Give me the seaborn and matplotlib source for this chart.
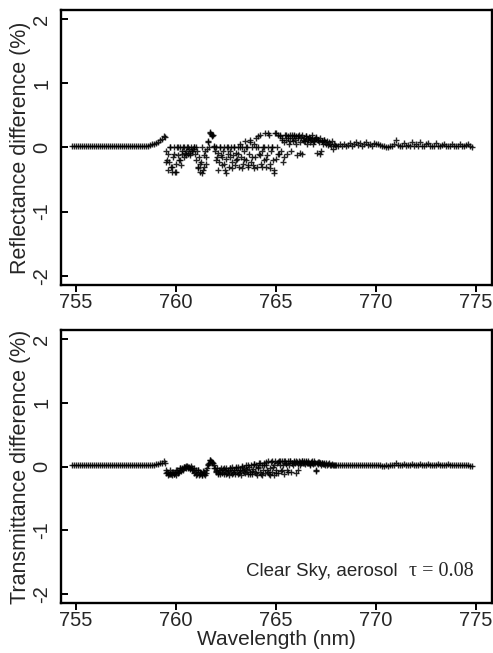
import numpy as np
import pandas as pd
import matplotlib
matplotlib.use("Agg")
import matplotlib.pyplot as plt
import seaborn as sns

sns.set_theme(style="white")
plt.rcParams["font.family"] = ["Liberation Sans", "DejaVu Sans"]

# Spectral sampling (nm) of the segments
head_wl = np.round(np.arange(754.8, 759.45, 0.1), 2)       # smooth continuum side
band_wl = np.round(np.arange(759.45, 768.025, 0.05), 2)    # O2 A-band lines
band2_wl = np.round(np.arange(759.525, 767.45, 0.1), 3)    # interleaved A-band samples
tail_wl = np.round(np.arange(768.1, 774.85, 0.1), 2)       # weak-line tail

# Reflectance difference (%)
refl_head = [0.02] * 36 + [0.02, 0.03, 0.03, 0.04, 0.05, 0.06, 0.07, 0.09, 0.11, 0.14, 0.18]
refl_band = [
    0.17, -0.05, -0.20, -0.10, -0.22, 0.00, -0.30, -0.38, -0.15, 0.00,
    -0.38, -0.25, 0.00, -0.12, -0.20, 0.00, -0.28, -0.05, 0.00, -0.15,
    -0.08, -0.05, 0.00, -0.10, -0.03, -0.12, 0.00, -0.06, -0.02, 0.00,
    -0.10, 0.00, -0.05, -0.30, -0.15, -0.38, -0.22, 0.00, -0.35, -0.12,
    -0.05, -0.25, -0.02, 0.08, 0.00, 0.24, 0.21, 0.18, 0.20, 0.03,
    -0.05, 0.00, -0.15, -0.08, -0.22, 0.00, -0.12, -0.28, -0.05, 0.00,
    -0.35, -0.18, 0.00, -0.10, -0.30, -0.05, 0.00, -0.22, -0.12, 0.00,
    -0.28, -0.08, -0.18, 0.00, -0.30, 0.05, -0.15, 0.00, -0.25, -0.05,
    0.10, -0.20, 0.00, -0.30, -0.10, 0.12, -0.22, 0.00, -0.28, 0.05,
    -0.15, 0.15, -0.30, 0.00, -0.10, 0.20, -0.25, -0.05, 0.00, -0.20,
    0.22, -0.30, -0.12, 0.00, 0.20, -0.25, -0.05, 0.00, -0.20, -0.40,
    0.22, -0.18, 0.00, 0.20, -0.10, 0.18, -0.05, 0.15, -0.22, 0.08,
    0.20, 0.12, -0.10, 0.18, 0.05, 0.20, -0.05, 0.15, 0.10, 0.20,
    0.12, 0.18, -0.12, 0.15, 0.20, 0.08, 0.17, -0.10, 0.12, 0.15,
    0.10, 0.18, 0.05, 0.14, 0.16, 0.08, 0.12, 0.15, 0.06, 0.10,
    0.14, 0.17, -0.08, 0.12, 0.08, 0.15, -0.05, 0.10, 0.06, 0.12,
    0.08, 0.05, 0.10, 0.04, 0.08, 0.06, 0.03, 0.10, -0.03, 0.05,
    0.04, 0.02,
]
refl_band2 = [
    -0.22, -0.35, 0.00, -0.30, -0.10, -0.38, 0.00, -0.20, -0.10, 0.00,
    -0.12, 0.00, -0.08, -0.05, 0.00, -0.20, -0.32, -0.25, -0.40, -0.30,
    -0.15, 0.10, 0.22, 0.19, 0.00, -0.20, -0.35, 0.00, -0.15, -0.25,
    -0.40, 0.00, -0.15, -0.32, 0.00, -0.20, -0.10, 0.00, -0.32, -0.18,
    0.00, -0.28, 0.08, -0.15, -0.32, 0.00, 0.18, -0.12, -0.30, 0.00,
    -0.18, 0.22, -0.32, 0.00, -0.35, 0.22, -0.10, 0.20, 0.12, -0.15,
    0.20, 0.15, 0.10, 0.20, 0.18, 0.05, 0.18, -0.08, 0.20, 0.10,
    0.18, 0.12, 0.15, 0.20, 0.10, 0.15, 0.12, -0.10, 0.10, 0.12,
]
refl_tail = [
    0.02, 0.05, 0.03, 0.06, 0.02, 0.04, 0.07, 0.03, 0.05, 0.08,
    0.04, 0.07, 0.03, 0.06, 0.08, 0.04, 0.06, 0.03, 0.07, 0.05,
    0.06, 0.04, 0.03, 0.02, 0.01, 0.01, 0.02, 0.03, 0.06, 0.12,
    0.04, 0.02, 0.03, 0.07, 0.02, 0.04, 0.02, 0.09, 0.03, 0.05,
    0.02, 0.08, 0.03, 0.02, 0.05, 0.07, 0.02, 0.03, 0.02, 0.07,
    0.03, 0.02, 0.04, 0.06, 0.02, 0.03, 0.02, 0.06, 0.03, 0.02,
    0.03, 0.05, 0.02, 0.02, 0.04, 0.05, 0.02, 0.01,
]

# Transmittance difference (%)
trans_head = [0.02] * 36 + [0.02, 0.02, 0.02, 0.03, 0.03, 0.03, 0.04, 0.04, 0.05, 0.06, 0.08]
trans_band = [
    0.05, -0.05, -0.08, -0.10, -0.12, -0.06, -0.11, -0.13, -0.08, -0.12,
    -0.10, -0.13, -0.06, -0.10, -0.08, -0.03, -0.07, -0.02, -0.05, -0.01,
    0.00, -0.03, 0.01, -0.02, 0.00, -0.04, 0.01, -0.02, -0.05, -0.03,
    -0.08, -0.05, -0.12, -0.06, -0.14, -0.08, -0.10, -0.13, -0.07, -0.11,
    -0.14, -0.06, -0.02, 0.02, 0.06, 0.10, 0.08, 0.07, 0.05, 0.02,
    -0.02, -0.07, -0.03, -0.10, -0.05, -0.12, -0.02, -0.08, -0.04, -0.11,
    -0.06, -0.02, -0.10, -0.05, -0.13, -0.03, -0.08, -0.01, -0.10, -0.06,
    -0.12, -0.03, -0.08, 0.00, -0.10, -0.05, -0.13, 0.01, -0.07, -0.03,
    -0.10, 0.02, -0.06, -0.12, 0.00, -0.08, 0.03, -0.11, -0.04, 0.04,
    -0.09, 0.02, -0.13, -0.03, 0.05, -0.08, -0.12, 0.03, -0.05, 0.06,
    -0.10, 0.02, -0.06, 0.08, -0.12, -0.03, 0.07, -0.09, 0.00, -0.14,
    0.08, -0.06, 0.05, -0.10, 0.09, 0.02, -0.07, 0.08, 0.03, -0.12,
    0.09, 0.04, -0.05, 0.08, 0.02, 0.09, -0.08, 0.06, 0.03, 0.08,
    0.05, -0.10, 0.07, 0.04, 0.08, 0.02, 0.06, 0.09, 0.05, 0.08,
    0.04, 0.07, 0.06, 0.08, 0.05, 0.03, 0.07, 0.06, 0.04, 0.08,
    0.05, -0.07, 0.06, 0.04, 0.07, 0.05, 0.03, 0.06, 0.04, 0.05,
    0.03, 0.05, 0.02, 0.04, 0.05, 0.03, 0.02, 0.04, 0.02, 0.03,
    0.02, 0.02,
]
trans_band2 = [
    -0.10, -0.14, -0.12, -0.08, -0.11, -0.05, -0.08, -0.02, -0.04, 0.00,
    0.01, -0.01, -0.02, -0.06, -0.10, -0.13, -0.06, -0.12, -0.14, -0.09,
    -0.10, 0.04, 0.10, 0.06, -0.02, -0.08, -0.12, -0.05, -0.10, -0.03,
    -0.12, -0.07, -0.03, -0.11, -0.06, -0.01, -0.12, -0.05, 0.00, -0.09,
    -0.04, 0.03, -0.12, -0.07, 0.04, -0.10, 0.00, 0.06, -0.13, 0.02,
    0.07, -0.08, -0.13, 0.08, 0.03, -0.10, 0.07, 0.09, -0.05, 0.08,
    0.06, -0.09, 0.09, 0.05, 0.07, 0.08, -0.06, 0.07, 0.09, 0.05,
    0.08, 0.06, 0.04, 0.08, 0.06, -0.05, 0.07, 0.05, 0.06, 0.04,
]
trans_tail = [
    0.02, 0.03, 0.02, 0.03, 0.02, 0.02, 0.03, 0.02, 0.03, 0.02,
    0.02, 0.03, 0.02, 0.02, 0.03, 0.02, 0.03, 0.02, 0.02, 0.03,
    0.02, 0.02, 0.01, 0.01, 0.02, 0.01, 0.02, 0.02, 0.03, 0.05,
    0.03, 0.02, 0.03, 0.04, 0.02, 0.03, 0.02, 0.04, 0.03, 0.02,
    0.03, 0.04, 0.02, 0.03, 0.02, 0.04, 0.02, 0.03, 0.02, 0.03,
    0.04, 0.02, 0.03, 0.02, 0.03, 0.04, 0.02, 0.02, 0.03, 0.02,
    0.03, 0.02, 0.02, 0.03, 0.02, 0.02, 0.01, 0.01,
]

x_ticks = [755, 760, 765, 770, 775]
y_ticks = [-2, -1, 0, 1, 2]

wl = np.concatenate([head_wl, band_wl, band2_wl, tail_wl])
df = pd.DataFrame({
    "wavelength": wl,
    "reflectance": np.concatenate([refl_head, refl_band, refl_band2, refl_tail]),
    "transmittance": np.concatenate([trans_head, trans_band, trans_band2, trans_tail]),
})

fig = plt.figure(figsize=(4.93, 6.53), dpi=100)
ax_r = fig.add_axes([0.1237, 0.5636, 0.8735, 0.4211])
ax_t = fig.add_axes([0.1237, 0.0766, 0.8735, 0.4180])

panels = [(ax_r, "reflectance", "Reflectance difference (%)"),
          (ax_t, "transmittance", "Transmittance difference (%)")]

for ax, col, label in panels:
    sns.scatterplot(data=df, x="wavelength", y=col, ax=ax, marker="+",
                    s=18, color="black", alpha=0.85, linewidth=1.0,
                    legend=False)
    ax.set_xlim(754.25, 775.8)
    ax.set_ylim(-2.145, 2.145)
    ax.set_xticks(x_ticks)
    ax.set_yticks(y_ticks)
    ax.set_xticklabels([str(v) for v in x_ticks], fontsize=14.5)
    ax.set_yticklabels([str(v) for v in y_ticks], fontsize=14.5,
                       rotation=90, va="center")
    ax.tick_params(axis="x", bottom=True, direction="out", length=5,
                   width=1.4, color="black", pad=0.5)
    ax.tick_params(axis="y", left=True, direction="in", length=5,
                   width=1.4, color="black", pad=7)
    for sp in ax.spines.values():
        sp.set_visible(True)
        sp.set_color("black")
        sp.set_linewidth(1.7)
    ax.set_ylabel(label, fontsize=15.5, labelpad=1)
    ax.set_xlabel("")
    ax.set_facecolor("white")

ax_t.set_xlabel("Wavelength (nm)", fontsize=15, labelpad=0)

ax_t.text(771.1, -1.72, "Clear Sky, aerosol", fontsize=13.5,
          ha="right", va="baseline")
ax_t.text(774.9, -1.72, "\u03c4 = 0.08", fontsize=14.5,
          family=["Liberation Serif", "DejaVu Serif"],
          ha="right", va="baseline")

fig.savefig("out.png", dpi=100, facecolor="white")
